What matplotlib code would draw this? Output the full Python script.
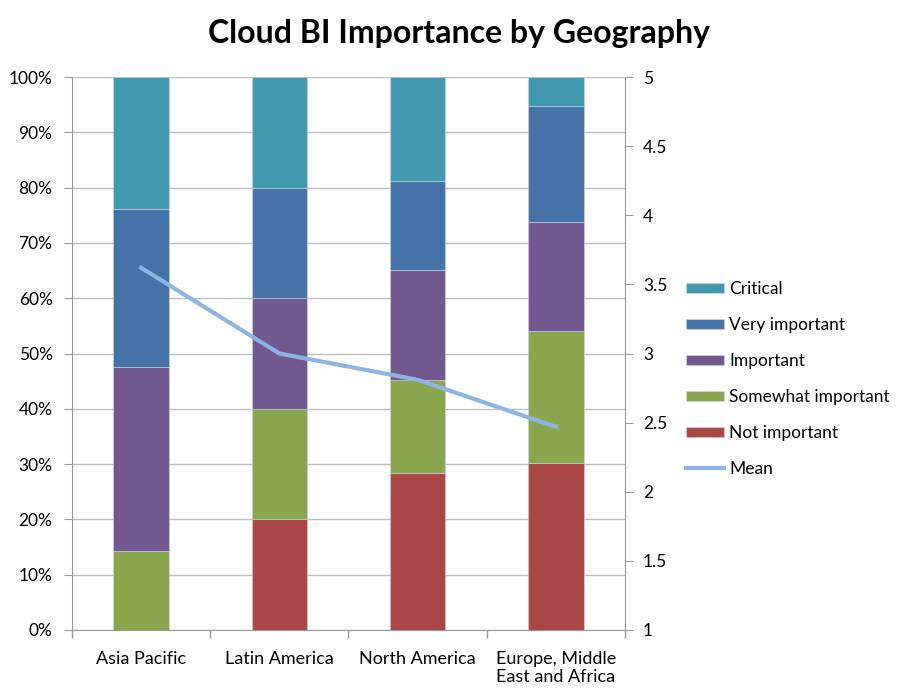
import matplotlib.pyplot as plt
from matplotlib.ticker import PercentFormatter, MultipleLocator, FixedLocator
import numpy as np

plt.rcParams['font.family'] = ['Lato', 'DejaVu Sans']

regions = ["Asia Pacific", "Latin America", "North America", "Europe, Middle\nEast and Africa"]
levels = ["Not important", "Somewhat important", "Important", "Very important", "Critical"]

# shares in percent, per region
not_important = [0.0, 20.0, 28.4, 30.2]
somewhat = [14.3, 20.0, 16.8, 23.9]
important = [33.3, 20.0, 19.9, 19.7]
very = [28.6, 20.0, 16.1, 21.0]
critical = [23.8, 20.0, 18.8, 5.2]
mean_score = [3.62, 3.00, 2.81, 2.47]

colors = ["#AA4643", "#89A54E", "#71588F", "#4572A7", "#4198AF"]
series = [not_important, somewhat, important, very, critical]

fig = plt.figure(figsize=(9.04, 6.88), dpi=100)
ax = fig.add_axes([72 / 904, 1 - 630 / 688, 553 / 904, 553 / 688])
x = np.arange(len(regions))

bottom = np.zeros(len(regions))
handles = []
for name, vals, c in zip(levels, series, colors):
    b = ax.bar(x, vals, 0.4, bottom=bottom, color=c, edgecolor="#d0d8e0", linewidth=0.4, label=name, zorder=3)
    handles.append(b)
    bottom += np.array(vals)

ax.set_xlim(-0.5, 3.5)
ax.set_ylim(0, 100)
ax.yaxis.set_major_locator(MultipleLocator(10))
ax.yaxis.set_major_formatter(PercentFormatter(decimals=0))
ax.grid(axis="y", color="#bebebe", linewidth=1, zorder=0)
ax.set_xticks(x)
ax.set_xticklabels(regions, fontsize=13)
ax.xaxis.set_minor_locator(FixedLocator([-0.5, 0.5, 1.5, 2.5, 3.5]))
ax.tick_params(axis="x", which="major", length=0, pad=15)
ax.tick_params(axis="x", which="minor", length=6, color="#999999", width=1)
ax.tick_params(axis="y", length=6, color="#999999", labelsize=12.5, pad=8)
for s in ["top", "right"]:
    ax.spines[s].set_visible(False)
for s in ["left", "bottom"]:
    ax.spines[s].set_color("#999999")

ax2 = ax.twinx()
line, = ax2.plot(x, mean_score, color="#8EB4E3", linewidth=3, label="Mean", zorder=5)
ax2.set_ylim(1, 5)
ax2.yaxis.set_major_locator(MultipleLocator(0.5))
ax2.yaxis.set_major_formatter(plt.FuncFormatter(lambda v, p: f"{v:g}"))
ax2.tick_params(axis="y", length=6, color="#999999", labelsize=12.5, pad=7)
for s in ["top", "left", "bottom"]:
    ax2.spines[s].set_visible(False)
ax2.spines["right"].set_color("#999999")

fig.text(459 / 904, 1 - 33 / 688, "Cloud BI Importance by Geography", ha="center", va="center",
         fontsize=23, fontweight="bold")

leg_handles = handles[::-1] + [line]
fig.legend(leg_handles, [h.get_label() for h in leg_handles], loc="center left",
           bbox_to_anchor=(686 / 904, 1 - 379 / 688), frameon=False, fontsize=12.5,
           borderpad=0, borderaxespad=0,
           handlelength=2.2, handleheight=0.55, labelspacing=1.15, handletextpad=0.3)

fig.savefig("out.png", dpi=100)
